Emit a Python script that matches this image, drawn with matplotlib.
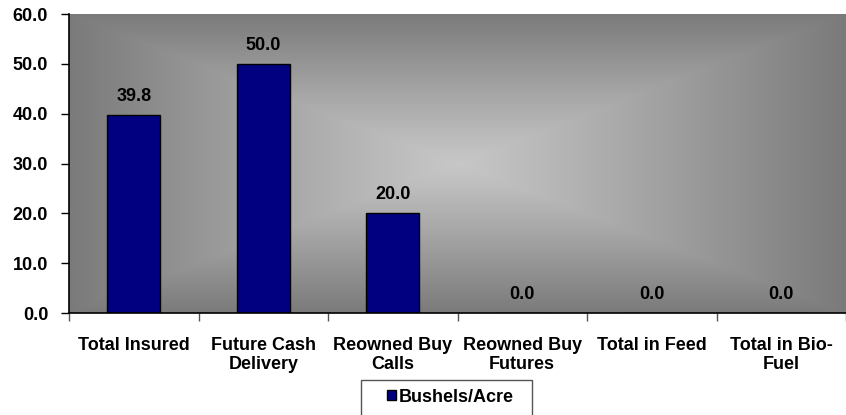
import matplotlib
matplotlib.use("Agg")
import matplotlib.pyplot as plt
import numpy as np
from matplotlib.patches import Patch, Rectangle

categories = ["Total Insured", "Future Cash\nDelivery", "Reowned Buy\nCalls",
              "Reowned Buy\nFutures", "Total in Feed", "Total in Bio-\nFuel"]
values = [39.8, 50.0, 20.0, 0.0, 0.0, 0.0]
series_name = "Bushels/Acre"
yticks = [0, 10, 20, 30, 40, 50, 60]

plt.rcParams['font.family'] = ['Liberation Sans', 'DejaVu Sans']
plt.rcParams['font.weight'] = 'bold'
FS = 13

W, H = 846, 415
fig = plt.figure(figsize=(W/100, H/100), dpi=100)
left, right, top, bottom = 69, 846, 14, 313
ax = fig.add_axes([left/W, 1-bottom/H, (right-left)/W, (bottom-top)/H])

n = len(categories)
# gradient background (rectangular, lighter in centre)
gy, gx = np.mgrid[-1:1:300j, -1:1:400j]
t = np.maximum(np.abs(gx), np.abs(gy))
lum = 0.78 - (0.78 - 0.48) * t**1.1
img = np.dstack([lum, lum, lum])
ax.imshow(img, extent=[-0.5, n-0.5, 0, 60], aspect='auto', zorder=0, interpolation='bilinear')

x = np.arange(n)
ax.bar(x, values, width=0.41, color='#000080', edgecolor='black', linewidth=1.0, zorder=2)
for xi, v in zip(x, values):
    ax.text(xi, v + 2.0, f"{v:.1f}", ha='center', va='bottom', fontsize=FS, fontweight='bold', zorder=3)

ax.set_xlim(-0.5, n-0.5)
ax.set_ylim(0, 60)
ax.set_yticks(yticks)
ax.set_yticklabels([f"{v:.1f}" for v in yticks], fontsize=FS, fontweight='bold')
ax.tick_params(axis='y', direction='out', length=6, width=1, pad=9)
ax.set_xticks(np.arange(n+1) - 0.5, minor=True)
ax.set_xticks(x)
ax.set_xticklabels(categories, fontsize=FS, fontweight='bold', linespacing=1.2)
ax.tick_params(axis='x', which='major', length=0, pad=17)
ax.tick_params(axis='x', which='minor', direction='out', length=6, width=1, color='#555555')
for s in ['top', 'right']:
    ax.spines[s].set_visible(False)
ax.spines['left'].set_linewidth(1.2)
ax.spines['bottom'].set_linewidth(1.2)

# legend frame (extends below the figure edge, as in the reference)
fig.patches.append(Rectangle((361/W, 1-420/H), 171/W, 40/H, transform=fig.transFigure,
                             facecolor='white', edgecolor='#555555', linewidth=1, zorder=1))
leg = fig.legend(handles=[Patch(facecolor='#000080', edgecolor='black', label=series_name)],
                 loc='center', bbox_to_anchor=(450/W, 1-397/H), frameon=False,
                 prop={'weight': 'bold', 'size': FS}, handlelength=0.5, handleheight=0.5,
                 handletextpad=0.15, borderpad=0, borderaxespad=0)

fig.savefig("out.png", dpi=100)
